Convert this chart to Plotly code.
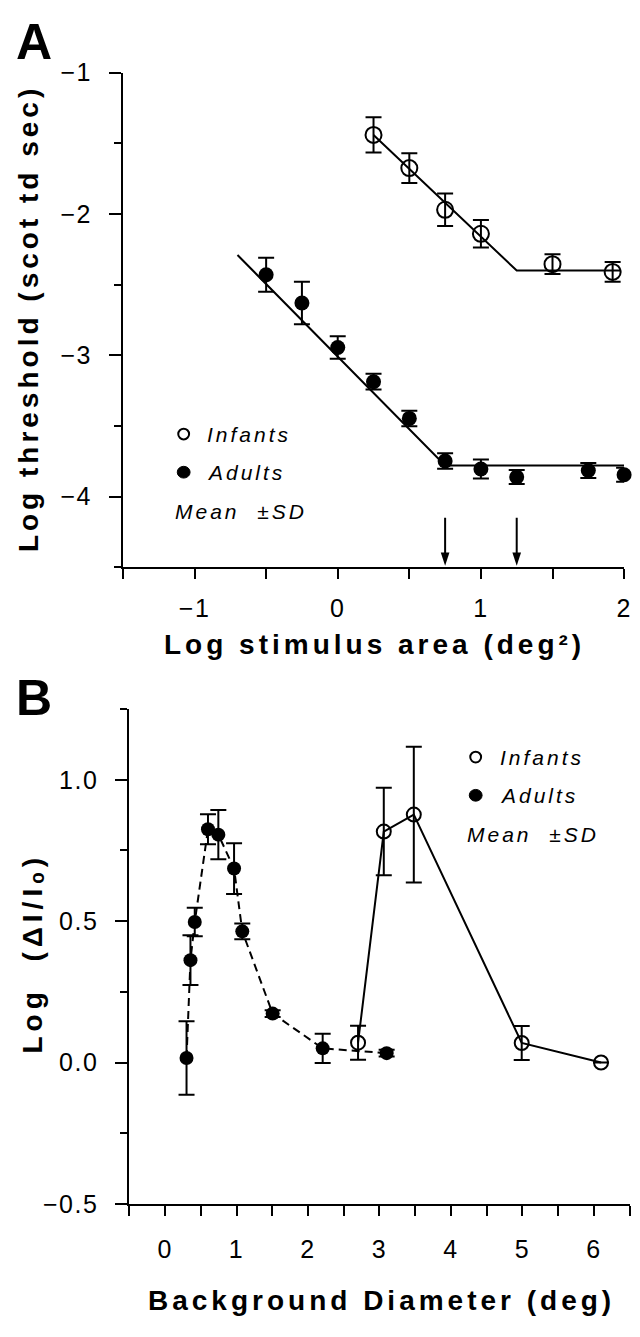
import plotly.graph_objects as go

# ---------------- Panel A: threshold vs. stimulus area ----------------
infant_area = [0.25, 0.5, 0.75, 1.0, 1.5, 1.92]
infant_thresh = [-1.44, -1.675, -1.97, -2.14, -2.355, -2.41]
infant_thresh_sd = [0.125, 0.105, 0.115, 0.097, 0.07, 0.07]

adult_area = [-0.5, -0.25, 0.0, 0.25, 0.5, 0.75, 1.0, 1.25, 1.75, 2.0]
adult_thresh = [-2.43, -2.63, -2.945, -3.187, -3.447, -3.748, -3.805, -3.862, -3.816, -3.846]
adult_thresh_sd = [0.12, 0.15, 0.08, 0.056, 0.055, 0.055, 0.068, 0.05, 0.053, 0.05]

# two-limb fits (slope segment + plateau)
infant_fit_x = [0.25, 1.25, 1.98]
infant_fit_y = [-1.44, -2.40, -2.40]
adult_fit_x = [-0.70, 0.75, 2.0]
adult_fit_y = [-2.29, -3.78, -3.78]

# critical areas marked with arrows
critical_area = [0.75, 1.25]
arrow_top, arrow_tip = -4.15, -4.49

a_xticks = [-1, 0, 1, 2]
a_xlabels = ["−1", "0", "1", "2"]
a_xminor = [-1.5, -0.5, 0.5, 1.5]
a_yticks = [-4, -3, -2, -1]
a_ylabels = ["−4", "−3", "−2", "−1"]
a_yminor = [-4.5, -3.5, -2.5, -1.5]

# ---------------- Panel B: increment threshold vs. background size ----------------
infant_diam = [2.70, 3.06, 3.48, 4.99, 6.10]
infant_logratio = [0.07, 0.817, 0.877, 0.069, 0.0]
infant_logratio_sd = [0.06, 0.155, 0.24, 0.06, 0.0]

adult_diam = [0.30, 0.355, 0.415, 0.60, 0.745, 0.965, 1.08, 1.505, 2.205, 3.10]
adult_logratio = [0.016, 0.362, 0.497, 0.825, 0.806, 0.686, 0.464, 0.173, 0.05, 0.033]
adult_logratio_sd = [0.13, 0.088, 0.05, 0.053, 0.087, 0.09, 0.028, 0.012, 0.052, 0.012]

b_xticks = [0, 1, 2, 3, 4, 5, 6]
b_xlabels = ["0", "1", "2", "3", "4", "5", "6"]
b_xminor = [-0.5, 0.5, 1.5, 2.5, 3.5, 4.5, 5.5, 6.5]
b_yticks = [-0.5, 0.0, 0.5, 1.0]
b_ylabels = ["−0.5", "0.0", "0.5", "1.0"]
b_yminor = [-0.25, 0.25, 0.75, 1.25]

W, H = 640, 1337
FONT = "Liberation Sans, Arial, Helvetica, sans-serif"


def fx(p):
    return p / W


def fy(p):
    return 1 - p / H


def spaced(text, sp):
    return f'<span style="letter-spacing:{sp}px">{text}</span>'


err = dict(type="data", color="black", thickness=2, width=8, visible=True)

fig = go.Figure()

# Panel A fits
fig.add_trace(go.Scatter(x=adult_fit_x, y=adult_fit_y, mode="lines",
                         line=dict(color="black", width=2), xaxis="x", yaxis="y",
                         cliponaxis=False, hoverinfo="skip"))
fig.add_trace(go.Scatter(x=infant_fit_x, y=infant_fit_y, mode="lines",
                         line=dict(color="black", width=2), xaxis="x", yaxis="y",
                         cliponaxis=False, hoverinfo="skip"))

# arrows pointing at the critical areas: shaft + head
shaft_x, shaft_y = [], []
for xa in critical_area:
    shaft_x += [xa, xa, None]
    shaft_y += [arrow_top, arrow_tip + 0.05, None]
fig.add_trace(go.Scatter(x=shaft_x, y=shaft_y, mode="lines",
                         line=dict(color="black", width=2), xaxis="x", yaxis="y",
                         cliponaxis=False, hoverinfo="skip"))
fig.add_trace(go.Scatter(x=critical_area, y=[arrow_tip] * len(critical_area), mode="markers",
                         marker=dict(symbol="arrow", angle=180, size=14, color="black",
                                     line=dict(width=0)),
                         xaxis="x", yaxis="y", cliponaxis=False, hoverinfo="skip"))

# Panel A data
fig.add_trace(go.Scatter(x=infant_area, y=infant_thresh, mode="markers",
                         error_y=dict(array=infant_thresh_sd, **err),
                         marker=dict(symbol="circle-open", size=16, color="black",
                                     line=dict(width=2, color="black")),
                         xaxis="x", yaxis="y", cliponaxis=False, name="Infants"))
fig.add_trace(go.Scatter(x=adult_area, y=adult_thresh, mode="markers",
                         error_y=dict(array=adult_thresh_sd, **err),
                         marker=dict(symbol="circle", size=15, color="black"),
                         xaxis="x", yaxis="y", cliponaxis=False, name="Adults"))

# Panel B data
fig.add_trace(go.Scatter(x=adult_diam, y=adult_logratio, mode="lines+markers",
                         line=dict(color="black", width=2, dash="8px,5px"),
                         error_y=dict(array=adult_logratio_sd, **err),
                         marker=dict(symbol="circle", size=14, color="black"),
                         xaxis="x2", yaxis="y2", cliponaxis=False, name="Adults"))
fig.add_trace(go.Scatter(x=infant_diam, y=infant_logratio, mode="lines+markers",
                         line=dict(color="black", width=2),
                         error_y=dict(array=infant_logratio_sd, **err),
                         marker=dict(symbol="circle-open", size=14, color="black",
                                     line=dict(width=2, color="black")),
                         xaxis="x2", yaxis="y2", cliponaxis=False, name="Infants"))

tickfont = dict(family=FONT, size=25, color="black")
axis_common = dict(showline=True, linecolor="black", linewidth=2, showgrid=False,
                   zeroline=False, ticks="outside", tickcolor="black", tickwidth=2,
                   tickfont=tickfont, fixedrange=True, tickmode="array")


def minor(vals, length):
    return dict(tickvals=vals, ticklen=length, tickwidth=2, tickcolor="black",
                ticks="outside", showgrid=False)


fig.update_layout(
    width=W, height=H, margin=dict(l=0, r=0, t=0, b=0),
    paper_bgcolor="white", plot_bgcolor="white", showlegend=False,
    xaxis=dict(domain=[fx(124.5), fx(632)], range=[-1.5, 2.0], anchor="y",
               tickvals=a_xticks, ticktext=[spaced(t, 1.5) for t in a_xlabels],
               ticklen=10, ticklabelstandoff=8, minor=minor(a_xminor, 10), **axis_common),
    yaxis=dict(domain=[fy(565), fy(60)], range=[-4.5, -1.0], anchor="x",
               tickvals=a_yticks, ticktext=[spaced(t, 1.5) for t in a_ylabels],
               ticklen=12, ticklabelstandoff=12, minor=minor(a_yminor, 7), **axis_common),
    xaxis2=dict(domain=[fx(131), fx(637.6)], range=[-0.5, 6.5], anchor="y2",
                tickvals=b_xticks, ticktext=[spaced(t, 1.5) for t in b_xlabels],
                ticklen=10, ticklabelstandoff=12, minor=minor(b_xminor, 10), **axis_common),
    yaxis2=dict(domain=[fy(1215.3), fy(710)], range=[-0.5, 1.25], anchor="x2",
                tickvals=b_yticks, ticktext=[spaced(t, 1.5) for t in b_ylabels],
                ticklen=12, ticklabelstandoff=12, minor=minor(b_yminor, 7), **axis_common),
)

annotations = []
title_font = dict(family=FONT, size=28, color="black")
letter_font = dict(family=FONT, size=50, color="black")
# axis titles
annotations += [
    dict(x=fx(379), y=fy(644), xref="paper", yref="paper", showarrow=False,
         text=spaced("<b>Log stimulus area (deg²)</b>", 4), font=title_font,
         xanchor="center", yanchor="middle"),
    dict(x=fx(29), y=fy(311), xref="paper", yref="paper", showarrow=False,
         text=spaced("<b>Log threshold (scot td sec)</b>", 4), font=title_font,
         textangle=-90, xanchor="center", yanchor="middle"),
    dict(x=fx(386), y=fy(1314), xref="paper", yref="paper", showarrow=False,
         text=spaced("<b>Background Diameter (deg)</b>", 4), font=title_font,
         xanchor="center", yanchor="middle"),
    dict(x=fx(33), y=fy(960), xref="paper", yref="paper", showarrow=False,
         text=spaced("<b>Log  (ΔI/Iₒ)</b>", 5), font=title_font,
         textangle=-90, xanchor="center", yanchor="middle"),
    # panel letters
    dict(x=fx(14), y=fy(29), xref="paper", yref="paper", showarrow=False,
         text="<b>A</b>", font=letter_font, xanchor="left", yanchor="middle"),
    dict(x=fx(14), y=fy(699), xref="paper", yref="paper", showarrow=False,
         text="<b>B</b>", font=letter_font, xanchor="left", yanchor="middle"),
]

# keys
key_font = dict(family=FONT, size=21, color="black")
shapes = []
for (cx, cy_open, cy_fill, tx, ty_mean) in [(186, 429, 468, 208, 508),
                                             (481.7, 759, 798, 504, 838)]:
    shapes.append(dict(type="circle", xref="paper", yref="paper",
                       x0=fx(cx - 5.5), x1=fx(cx + 5.5), y0=fy(cy_open + 5.5), y1=fy(cy_open - 5.5),
                       line=dict(color="black", width=2), fillcolor="rgba(0,0,0,0)"))
    shapes.append(dict(type="circle", xref="paper", yref="paper",
                       x0=fx(cx - 6.5), x1=fx(cx + 6.5), y0=fy(cy_fill + 6), y1=fy(cy_fill - 6),
                       line=dict(color="black", width=1), fillcolor="black"))
    annotations.append(dict(x=fx(tx), y=fy(cy_open), xref="paper", yref="paper",
                            showarrow=False, text=spaced("<i>Infants</i>", 3),
                            font=key_font, xanchor="left", yanchor="middle"))
    annotations.append(dict(x=fx(tx), y=fy(cy_fill), xref="paper", yref="paper",
                            showarrow=False, text=spaced("<i>Adults</i>", 3),
                            font=key_font, xanchor="left", yanchor="middle"))
    annotations.append(dict(x=fx(cx - 11), y=fy(ty_mean), xref="paper", yref="paper",
                            showarrow=False, text=spaced("<i>Mean  ±SD</i>", 3),
                            font=key_font, xanchor="left", yanchor="middle"))

fig.update_layout(annotations=annotations, shapes=shapes)
fig.write_html("out.html")
